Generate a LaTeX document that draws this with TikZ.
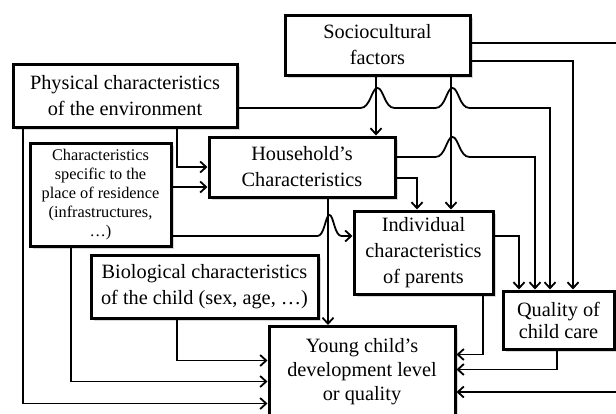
\documentclass[tikz,border=0pt]{standalone}
\usepackage{fontspec}
\setmainfont{Liberation Serif}
\usetikzlibrary{arrows.meta,shadows,positioning}

\tikzset{
  factor/.style={draw, line width=3pt, fill=white, align=center, inner sep=2pt,
    font=\fontsize{20.3}{26}\selectfont,
    drop shadow={shadow xshift=2.5pt, shadow yshift=-2.5pt, opacity=.3}},
  link/.style={line width=1.8pt, -{Straight Barb[length=6pt,width=11pt]}}
}

\begin{document}
\begin{tikzpicture}[x=1pt, y=-1pt]

  \useasboundingbox (0,0) rectangle (616,413);
  \fill[white] (0,0) rectangle (616,413);
  \clip (0,0) rectangle (616,413);

  % Define nodes
  \node[factor, minimum width=185pt, minimum height=60pt] (socio) at (377.5,45) {Sociocultural\\factors};
  \node[factor, minimum width=224pt, minimum height=63pt] (phys) at (125,95.5) {Physical characteristics\\of the environment};
  \node[factor, minimum width=141pt, minimum height=103pt, font=\fontsize{16.3}{19}\selectfont] (spec) at (100.5,194.5) {Characteristics\\specific to the\\place of residence\\(infrastructures,\\…)};
  \node[factor, minimum width=186pt, minimum height=60pt] (house) at (302,167) {Household’s\\Characteristics};
  \node[factor, minimum width=139pt, minimum height=83pt] (indiv) at (423.5,252.5) {Individual\\characteristics\\of parents};
  \node[factor, minimum width=227pt, minimum height=63pt] (bio) at (204.5,286.5) {Biological characteristics\\of the child (sex, age, …)};
  \node[factor, minimum width=186pt, minimum height=90pt, anchor=north, font=\fontsize{20.3}{24}\selectfont] (young) at (362,325) {Young child’s\\development level\\or quality};
  \node[factor, minimum width=111pt, minimum height=58pt, font=\fontsize{20.3}{22}\selectfont] (qual) at (558.5,320) {Quality of\\child care};
  \coordinate (edge) at (620,392);

  % Connect the nodes
  \draw[link] ([xshift=-1.5pt]socio.south) -- ([xshift=-1.5pt]socio.south |- house.north);
  \draw[link] ([xshift=73.5pt]socio.south) -- ([xshift=73.5pt]socio.south |- indiv.north);
  \draw[link] ([yshift=-16pt]socio.east) -| ([xshift=14.5pt]qual.north);
  \draw[link] ([yshift=2pt]socio.east) -| (edge) -- (edge -| young.east);

  \draw[link] ([yshift=-12.5pt]phys.east) -- ++(122,0)
    .. controls +(10,0) and +(-6,0) .. ++(17,-20)
    .. controls +(6,0) and +(-10,0) .. ++(17,20) -- ++(41,0)
    .. controls +(10,0) and +(-6,0) .. ++(17,-20)
    .. controls +(6,0) and +(-10,0) .. ++(17,20) -| ([xshift=-8.5pt]qual.north);
  \draw[link] ([xshift=52pt]phys.south) |- (house.west);
  \draw[link] ([xshift=-102pt]phys.south) |- ([yshift=-32pt]young.west);

  \draw[link] ([yshift=7.5pt]spec.east) -- ([yshift=7.5pt]spec.east -| house.west);
  \draw[link] ([yshift=-41.5pt]spec.east) -- ++(145,0)
    .. controls +(7,0) and +(-4,0) .. ++(12,-21)
    .. controls +(4,0) and +(-7,0) .. ++(12,21) -- ([yshift=-41.5pt]spec.east -| indiv.west);
  \draw[link] ([xshift=-29.5pt]spec.south) |- ([yshift=-10pt]young.west);

  \draw[link] ([yshift=-11pt]house.east) -| ([xshift=-6.5pt]indiv.north);
  \draw[link] ([yshift=10pt]house.east) -- ++(39,0)
    .. controls +(10,0) and +(-6,0) .. ++(17,-20)
    .. controls +(6,0) and +(-10,0) .. ++(17,20) -| ([xshift=-23.5pt]qual.north);
  \draw[link] ([xshift=26pt]house.south) -- ([xshift=26pt]house.south |- young.north);

  \draw[link] ([yshift=16.5pt]indiv.east) -| ([xshift=-39.5pt]qual.north);
  \draw[link] ([xshift=59.5pt]indiv.south) |- ([yshift=17pt]young.east);
  \draw[link] ([xshift=-27.5pt]bio.south) |- ([yshift=11pt]young.west);
  \draw[link] ([xshift=-1.5pt]qual.south) |- ([yshift=2pt]young.east);

\end{tikzpicture}
\end{document}
